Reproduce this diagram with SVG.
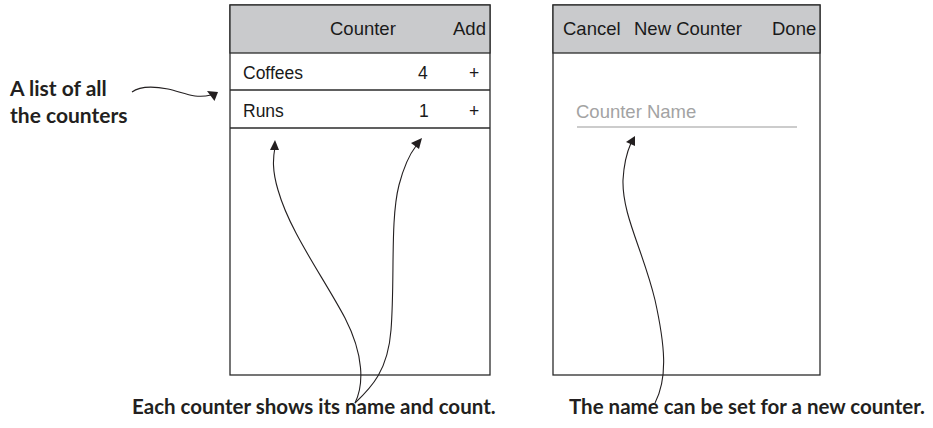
<svg xmlns="http://www.w3.org/2000/svg" width="933" height="428" viewBox="0 0 933 428">
<style>
.frame{fill:#fff;stroke:#2b2b2b;stroke-width:1.3}
.hdr{fill:#c9cacc;stroke:#2b2b2b;stroke-width:1.3}
.sep{stroke:#2b2b2b;stroke-width:1.3}
.ui{font-family:"Liberation Sans",Arial,sans-serif;font-size:18.5px;fill:#1a1a1a}
.row{font-family:"Liberation Sans",Arial,sans-serif;font-size:17.5px;fill:#1a1a1a}
.ph{font-family:"Liberation Sans",Arial,sans-serif;font-size:18.5px;fill:#a3a3a3}
.note{font-family:Lato,"Open Sans",sans-serif;font-weight:bold;font-size:21px;fill:#231f20}
.cap{font-family:Lato,"Open Sans",sans-serif;font-weight:bold;font-size:20.5px;fill:#231f20}
.conn{fill:none;stroke:#231f20;stroke-width:1.1}
.head{fill:#231f20}
</style>
<rect width="933" height="428" fill="#fff"/>
<g id="list-screen">
<rect class="frame" x="230" y="5" width="260" height="370"/>
<rect class="hdr" x="230" y="5" width="260" height="48"/>
<text class="ui" x="330" y="35">Counter</text>
<text class="ui" x="453" y="35">Add</text>
<line class="sep" x1="230" y1="90" x2="490" y2="90"/>
<line class="sep" x1="230" y1="128" x2="490" y2="128"/>
<text class="row" x="243" y="79">Coffees</text>
<text class="row" x="418" y="79">4</text>
<text class="row" x="469" y="79">+</text>
<text class="row" x="243" y="117">Runs</text>
<text class="row" x="419" y="117">1</text>
<text class="row" x="469" y="117">+</text>
</g>
<g id="new-screen">
<rect class="frame" x="553" y="5" width="267" height="370"/>
<rect class="hdr" x="553" y="5" width="267" height="48"/>
<text class="ui" x="563" y="35">Cancel</text>
<text class="ui" x="634" y="35">New Counter</text>
<text class="ui" x="772" y="35">Done</text>
<text class="ph" x="576" y="118">Counter Name</text>
<line x1="577" y1="127" x2="797" y2="127" stroke="#9a9a9a" stroke-width="1.2"/>
</g>
<g id="label-list">
<text class="note" x="10" y="96">A list of all</text>
<text class="note" x="10" y="123">the counters</text>
</g>
<g id="label-each">
<text class="cap" x="132" y="414">Each counter shows its name and count.</text>
</g>
<g id="label-name">
<text class="cap" x="569" y="414">The name can be set for a new counter.</text>
</g>
<g id="connectors">
<path class="conn" d="M132,92 C140,86 152,86 168,89 C185,93 195,99 211,95"/>
<polygon class="head" points="207,91 218,92 214.5,101"/>
<path class="conn" d="M355,403 C364,385 364,355 345,318 C322,275 290,232 278,190 C272,170 273,158 275,147"/>
<polygon class="head" points="270,150 279,150 275,140"/>
<path class="conn" d="M355,403 C372,387 388,370 391,330 C395,280 390,220 399,185 C404,166 409,155 416,146"/>
<polygon class="head" points="411,143 419,149 422,138"/>
<path class="conn" d="M655,403 C668,378 665,345 655,300 C643,250 622,215 623,180 C624,162 627,152 631,143"/>
<polygon class="head" points="626,142 635,146 635,136"/>
</g>
</svg>
